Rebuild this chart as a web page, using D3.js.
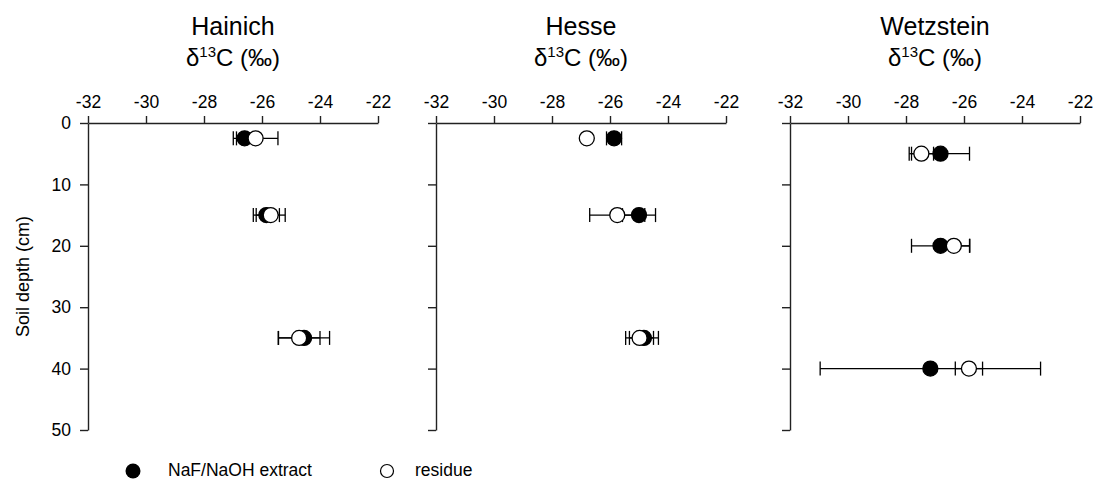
<!DOCTYPE html>
<html>
<head>
<meta charset="utf-8">
<script src="https://cdn.jsdelivr.net/npm/d3@7"></script>
<style>
  body { margin: 0; background: #fff; overflow: hidden; }
  svg { display: block; }
  text { font-family: "Liberation Sans", Arial, sans-serif; fill: #000; }
</style>
</head>
<body>
<svg id="chart"></svg>
<script>
// values
var sites = ['Hainich', 'Hesse', 'Wetzstein'];
var depths = [[2.5, 15, 35], [2.5, 15, 35], [5, 20, 40]];
var extractMean = [[-26.6, -25.85, -24.55], [-25.86, -25.0, -24.83], [-26.81, -26.81, -27.16]];
var extractSd   = [[0.28, 0.45, 0.88], [0.26, 0.57, 0.5], [1.0, 1.0, 3.8]];
var residueMean = [[-26.22, -25.7, -24.72], [-26.8, -25.75, -24.98], [-27.47, -26.35, -25.83]];
var residueSd   = [[0.77, 0.5, 0.72], [0.1, 0.95, 0.48], [0.42, 0.55, 0.47]];
var xTicks = [-32, -30, -28, -26, -24, -22];
var yTicks = [0, 10, 20, 30, 40, 50];
var legendLabels = ['NaF/NaOH extract', 'residue'];

var W = 1096, H = 480;
var panelLeft = [88, 436, 790];
var plotTop = 123, plotW = 290, plotH = 307;
var lineCol = '#222';

var svg = d3.select('#chart').attr('width', W).attr('height', H);

var x = d3.scaleLinear().domain([-32, -22]).range([0, plotW]);
var y = d3.scaleLinear().domain([0, 50]).range([0, plotH]);

sites.forEach(function(site, s) {
	var g = svg.append('g').attr('transform', 'translate(' + panelLeft[s] + ',' + plotTop + ')');

	// titles
	g.append('text')
		.attr('x', plotW / 2).attr('y', -88)
		.attr('text-anchor', 'middle')
		.style('font-size', '25px')
		.text(site);
	var sub = g.append('text')
		.attr('x', plotW / 2).attr('y', -57)
		.attr('text-anchor', 'middle')
		.style('font-size', '24px');
	sub.append('tspan').text('\u03B4');
	sub.append('tspan').attr('dy', -9).style('font-size', '15px').text('13');
	sub.append('tspan').attr('dy', 9).text('C (\u2030)');

	// axes
	var xa = g.append('g')
		.call(d3.axisTop(x).tickValues(xTicks).tickSize(7).tickSizeOuter(0).tickPadding(8)
			.tickFormat(function(d) { return String(d); }));
	var ya = g.append('g')
		.call(d3.axisLeft(y).tickValues(yTicks).tickSize(8).tickSizeOuter(0).tickPadding(9)
			.tickFormat(s === 0 ? function(d) { return String(d); } : function() { return ''; }));
	[xa, ya].forEach(function(a) {
		a.selectAll('path, line').attr('stroke', lineCol).attr('stroke-width', 1.4);
		a.selectAll('text').style('font-size', '17.5px').attr('fill', '#000')
			.style('font-family', '"Liberation Sans", Arial, sans-serif');
	});

	var rows = depths[s].map(function(d, i) {
		return { depth: d, em: extractMean[s][i], es: extractSd[s][i],
			rm: residueMean[s][i], rs: residueSd[s][i] };
	});

	// error bars
	var bars = [];
	rows.forEach(function(r) {
		bars.push({ depth: r.depth, m: r.em, sd: r.es });
		bars.push({ depth: r.depth, m: r.rm, sd: r.rs });
	});
	var eb = g.append('g').selectAll('g').data(bars).enter().append('g')
		.attr('stroke', '#000').attr('stroke-width', 1.3);
	eb.append('line')
		.attr('x1', function(d) { return x(d.m - d.sd); })
		.attr('x2', function(d) { return x(d.m + d.sd); })
		.attr('y1', function(d) { return y(d.depth); })
		.attr('y2', function(d) { return y(d.depth); });
	[-1, 1].forEach(function(sign) {
		eb.append('line')
			.attr('x1', function(d) { return x(d.m + sign * d.sd); })
			.attr('x2', function(d) { return x(d.m + sign * d.sd); })
			.attr('y1', function(d) { return y(d.depth) - 7; })
			.attr('y2', function(d) { return y(d.depth) + 7; });
	});

	// points: extract (filled) under residue (open)
	g.append('g').selectAll('circle').data(rows).enter().append('circle')
		.attr('cx', function(d) { return x(d.em); })
		.attr('cy', function(d) { return y(d.depth); })
		.attr('r', 7.5).attr('fill', '#000').attr('stroke', '#000').attr('stroke-width', 1.3);
	g.append('g').selectAll('circle').data(rows).enter().append('circle')
		.attr('cx', function(d) { return x(d.rm); })
		.attr('cy', function(d) { return y(d.depth); })
		.attr('r', 7.5).attr('fill', '#fff').attr('stroke', '#000').attr('stroke-width', 1.3);
});

// y axis title
svg.append('text')
	.attr('transform', 'translate(29,' + (plotTop + plotH / 2) + ') rotate(-90)')
	.attr('text-anchor', 'middle')
	.style('font-size', '18px')
	.text('Soil depth (cm)');

// legend
var lg = svg.append('g');
lg.append('circle').attr('cx', 133).attr('cy', 471).attr('r', 7.5).attr('fill', '#000');
lg.append('text').attr('x', 168).attr('y', 470).attr('dy', '0.35em')
	.style('font-size', '17.5px').text(legendLabels[0]);
lg.append('circle').attr('cx', 387).attr('cy', 471).attr('r', 6.5)
	.attr('fill', '#fff').attr('stroke', '#000').attr('stroke-width', 1.2);
lg.append('text').attr('x', 415).attr('y', 470).attr('dy', '0.35em')
	.style('font-size', '17.5px').text(legendLabels[1]);
</script>
</body>
</html>
